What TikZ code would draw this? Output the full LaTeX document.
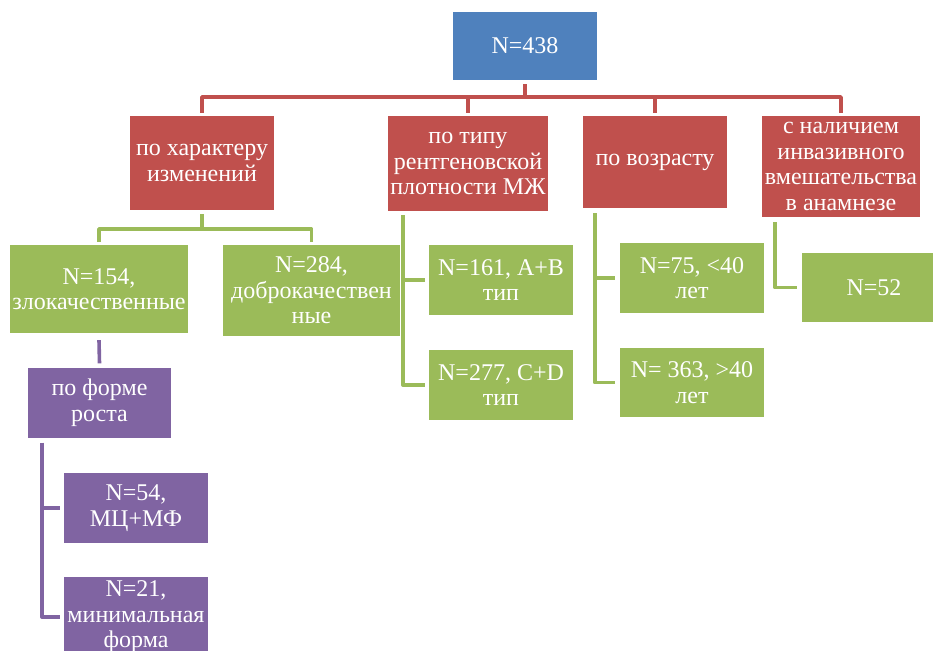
\documentclass[tikz,border=0pt]{standalone}
\usepackage{fontspec}
\setmainfont{Liberation Serif}
\newfontfamily\boxfont{Liberation Serif}
\definecolor{cblue}{HTML}{4F81BD}
\definecolor{cred}{HTML}{C0504D}
\definecolor{cgreen}{HTML}{9BBB59}
\definecolor{cpurple}{HTML}{8064A2}
\begin{document}
\begin{tikzpicture}[x=1pt,y=-1pt,
  box/.style={rectangle, inner sep=0pt, align=center, text=white,
    font=\boxfont\fontsize{24}{25.5}\selectfont},
  ln/.style={line width=3.6pt, line join=round},
]
\useasboundingbox (0,0) rectangle (933,650);
\clip (0,0) rectangle (933,650);

% top level
\node[box, fill=cblue, minimum width=144pt, minimum height=68pt] (root) at (525,46) {N=438};

% categories
\node[box, fill=cred, minimum width=144pt, minimum height=94pt] (c1) at (202,163) {по характеру\\изменений};
\node[box, fill=cred, minimum width=160pt, minimum height=95pt] (c2) at (468,163.5) {по типу\\рентгеновской\\плотности МЖ};
\node[box, fill=cred, minimum width=144pt, minimum height=92pt] (c3) at (655,162) {по возрасту};
\node[box, fill=cred, minimum width=158pt, minimum height=101pt] (c4) at (841,166.5) {с наличием\\инвазивного\\вмешательства\\в анамнезе};

% green leaves
\node[box, fill=cgreen, minimum width=178pt, minimum height=88pt] (g1) at (99,289) {N=154,\\злокачественные};
\node[box, fill=cgreen, minimum width=177pt, minimum height=91pt] (g2) at (311.5,290.5) {N=284,\\доброкачествен\\ные};
\node[box, fill=cgreen, minimum width=144pt, minimum height=70pt] (g3) at (501,280) {N=161, A+B\\тип};
\node[box, fill=cgreen, minimum width=144pt, minimum height=70pt] (g4) at (501,385) {N=277, C+D\\тип};
\node[box, fill=cgreen, minimum width=144pt, minimum height=70pt] (g5) at (692,278) {N=75, <40\\лет};
\node[box, fill=cgreen, minimum width=144pt, minimum height=69pt] (g6) at (692,382.5) {N= 363, >40\\лет};
\node[box, fill=cgreen, minimum width=144pt, minimum height=69pt] (g7) at (874,287.5) {N=52};

% purple
\node[box, fill=cpurple, minimum width=143pt, minimum height=70pt] (p0) at (99.5,402.5) {по форме\\роста};
\node[box, fill=cpurple, minimum width=144pt, minimum height=70pt] (p1) at (136,508) {N=54,\\МЦ+МФ};
\node[box, fill=cpurple, minimum width=144pt, minimum height=80pt] (p2) at (136,617) {N=21,\\минимальная\\форма};

% red connectors
\coordinate (rb) at (0,97);
\draw[ln, cred] ([yshift=-4pt]root.south) -- (root.south |- rb);
\draw[ln, cred] ([yshift=3pt]c1.north) -- (c1.north |- rb) -- (c4.north |- rb) -- ([yshift=3pt]c4.north);
\draw[ln, cred] (c2.north |- rb) -- ([yshift=3pt]c2.north);
\draw[ln, cred] (c3.north |- rb) -- ([yshift=3pt]c3.north);

% green connectors under c1
\coordinate (gb) at (0,229);
\draw[ln, cgreen] ([yshift=-4pt]c1.south) -- (c1.south |- gb);
\draw[ln, cgreen] ([yshift=3pt]g1.north) -- (g1.north |- gb) -- (g2.north |- gb) -- ([yshift=3pt]g2.north);

% green brackets
\coordinate (v2) at ([xshift=15pt,yshift=-4pt]c2.south west);
\draw[ln, cgreen] (v2) |- ([xshift=-4pt]g4.west);
\draw[ln, cgreen] (v2 |- g3.west) -- ([xshift=-4pt]g3.west);
\coordinate (v3) at ([xshift=12pt,yshift=-5pt]c3.south west);
\draw[ln, cgreen] (v3) |- ([xshift=-5pt]g6.west);
\draw[ln, cgreen] (v3 |- g5.west) -- ([xshift=-5pt]g5.west);
\coordinate (v4) at ([xshift=13pt,yshift=-5pt]c4.south west);
\draw[ln, cgreen] (v4) |- ([xshift=-5pt]g7.west);

% purple connectors
\draw[ln, cpurple] ([yshift=-7pt]g1.south) -- ([yshift=4pt]p0.north);
\coordinate (pv) at ([xshift=14pt,yshift=-5pt]p0.south west);
\draw[ln, cpurple] (pv) |- ([xshift=-4pt]p2.west);
\draw[ln, cpurple] (pv |- p1.west) -- ([xshift=-4pt]p1.west);
\end{tikzpicture}
\end{document}
